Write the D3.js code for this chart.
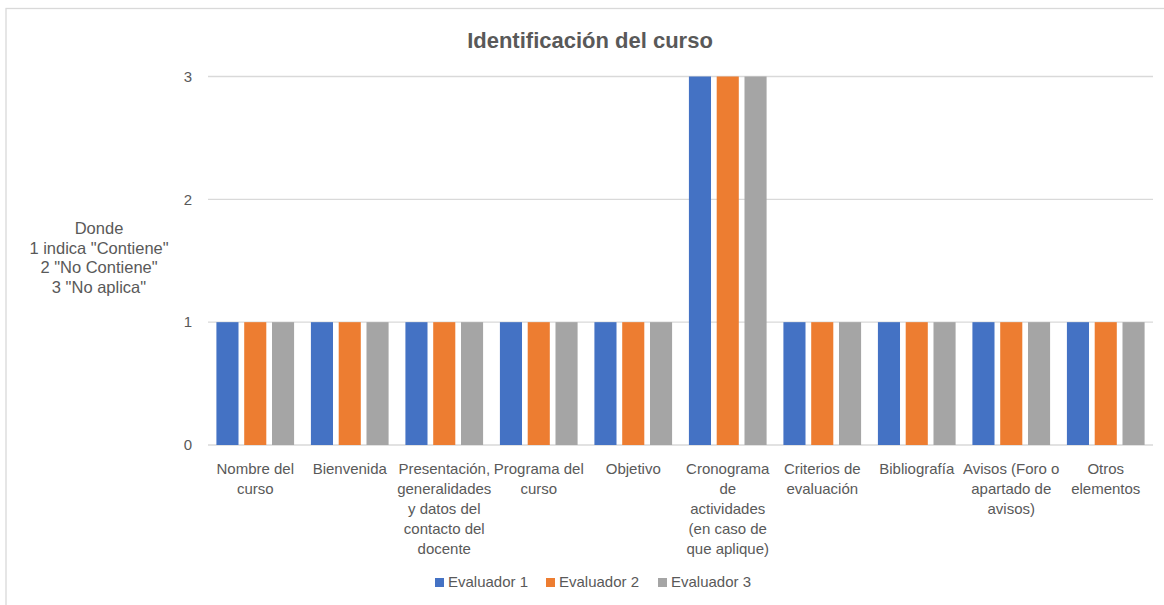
<!DOCTYPE html>
<html>
<head>
<meta charset="utf-8">
<script src="https://cdn.jsdelivr.net/npm/d3@7"></script>
<style>
  html, body { margin: 0; padding: 0; background: #fff; }
  svg { display: block; font-family: "Liberation Sans", Arial, sans-serif; }
</style>
</head>
<body>
<svg id="chart" width="1164" height="605"></svg>
<script>
// Category labels (line breaks as they appear under each group)
const categories = [
  "Nombre del\ncurso",
  "Bienvenida",
  "Presentación,\ngeneralidades\ny datos del\ncontacto del\ndocente",
  "Programa del\ncurso",
  "Objetivo",
  "Cronograma\nde\nactividades\n(en caso de\nque aplique)",
  "Criterios de\nevaluación",
  "Bibliografía",
  "Avisos (Foro o\napartado de\navisos)",
  "Otros\nelementos"
];
const seriesNames = ["Evaluador 1", "Evaluador 2", "Evaluador 3"];
const evaluador1 = [1, 1, 1, 1, 1, 3, 1, 1, 1, 1];
const evaluador2 = [1, 1, 1, 1, 1, 3, 1, 1, 1, 1];
const evaluador3 = [1, 1, 1, 1, 1, 3, 1, 1, 1, 1];
const yTicks = [0, 1, 2, 3];
const titleText = "Identificación del curso";
const axisTitleLines = ["Donde", "1 indica \"Contiene\"", "2 \"No Contiene\"", "3 \"No aplica\""];
const colors = ["#4472C4", "#ED7D31", "#A5A5A5"];

const seriesValues = [evaluador1, evaluador2, evaluador3];
const svg = d3.select("#chart");
const textColor = "#595959";
const gridColor = "#d9d9d9";
const fontSize = 15;

// chart frame
svg.append("rect")
  .attr("x", 6).attr("y", 8.5)
  .attr("width", 1200).attr("height", 700)
  .attr("fill", "#fff")
  .attr("stroke", gridColor).attr("stroke-width", 1.3);

const plot = { left: 208, right: 1153, top: 76.5, bottom: 445 };

const x = d3.scaleBand().domain(categories).range([plot.left, plot.right]).padding(0);
const inner = d3.scaleBand().domain(seriesNames)
  .range([x.bandwidth() * 0.089, x.bandwidth() * 0.911])
  .paddingInner(0.205).paddingOuter(0);
const y = d3.scaleLinear().domain([0, 3]).range([plot.bottom, plot.top]);

// horizontal gridlines
svg.append("g").selectAll("line").data(yTicks).join("line")
  .attr("x1", plot.left).attr("x2", plot.right)
  .attr("y1", d => y(d)).attr("y2", d => y(d))
  .attr("stroke", gridColor).attr("stroke-width", 1.3);

// y tick labels
svg.append("g").selectAll("text").data(yTicks).join("text")
  .attr("x", 192).attr("y", d => y(d))
  .attr("dy", "0.35em")
  .attr("text-anchor", "end")
  .attr("fill", textColor)
  .attr("font-size", fontSize)
  .text(d => d);

// bars
const groups = svg.append("g").selectAll("g").data(categories).join("g")
  .attr("transform", c => `translate(${x(c)},0)`);
groups.selectAll("rect")
  .data((c, i) => seriesNames.map((s, k) => ({ s, v: seriesValues[k][i], k })))
  .join("rect")
  .attr("x", d => inner(d.s))
  .attr("width", inner.bandwidth())
  .attr("y", d => y(d.v))
  .attr("height", d => y(0) - y(d.v))
  .attr("fill", d => colors[d.k]);

// category labels
const catLabels = svg.append("g").selectAll("text").data(categories).join("text")
  .attr("text-anchor", "middle")
  .attr("fill", textColor)
  .attr("font-size", fontSize);
catLabels.selectAll("tspan")
  .data(c => c.split("\n").map(line => ({ c, line })))
  .join("tspan")
  .attr("x", d => x(d.c) + x.bandwidth() / 2)
  .attr("y", (d, i) => 474 + i * 20)
  .text(d => d.line);

// title
svg.append("text")
  .attr("x", 590).attr("y", 48)
  .attr("text-anchor", "middle")
  .attr("fill", textColor)
  .attr("font-size", 22)
  .attr("font-weight", "bold")
  .text(titleText);

// y axis title
svg.append("text")
  .attr("text-anchor", "middle")
  .attr("fill", textColor)
  .attr("font-size", 16.5)
  .selectAll("tspan").data(axisTitleLines).join("tspan")
  .attr("x", 99)
  .attr("y", (d, i) => 234 + i * 19.6)
  .text(d => d);

// legend
const legendX = [435, 546, 658];
const legend = svg.append("g").selectAll("g").data(seriesNames).join("g")
  .attr("transform", (d, i) => `translate(${legendX[i]},578)`);
legend.append("rect")
  .attr("width", 9).attr("height", 9)
  .attr("fill", (d, i) => colors[i]);
legend.append("text")
  .attr("x", 13).attr("y", 9)
  .attr("fill", textColor)
  .attr("font-size", fontSize)
  .text(d => d);
</script>
</body>
</html>
